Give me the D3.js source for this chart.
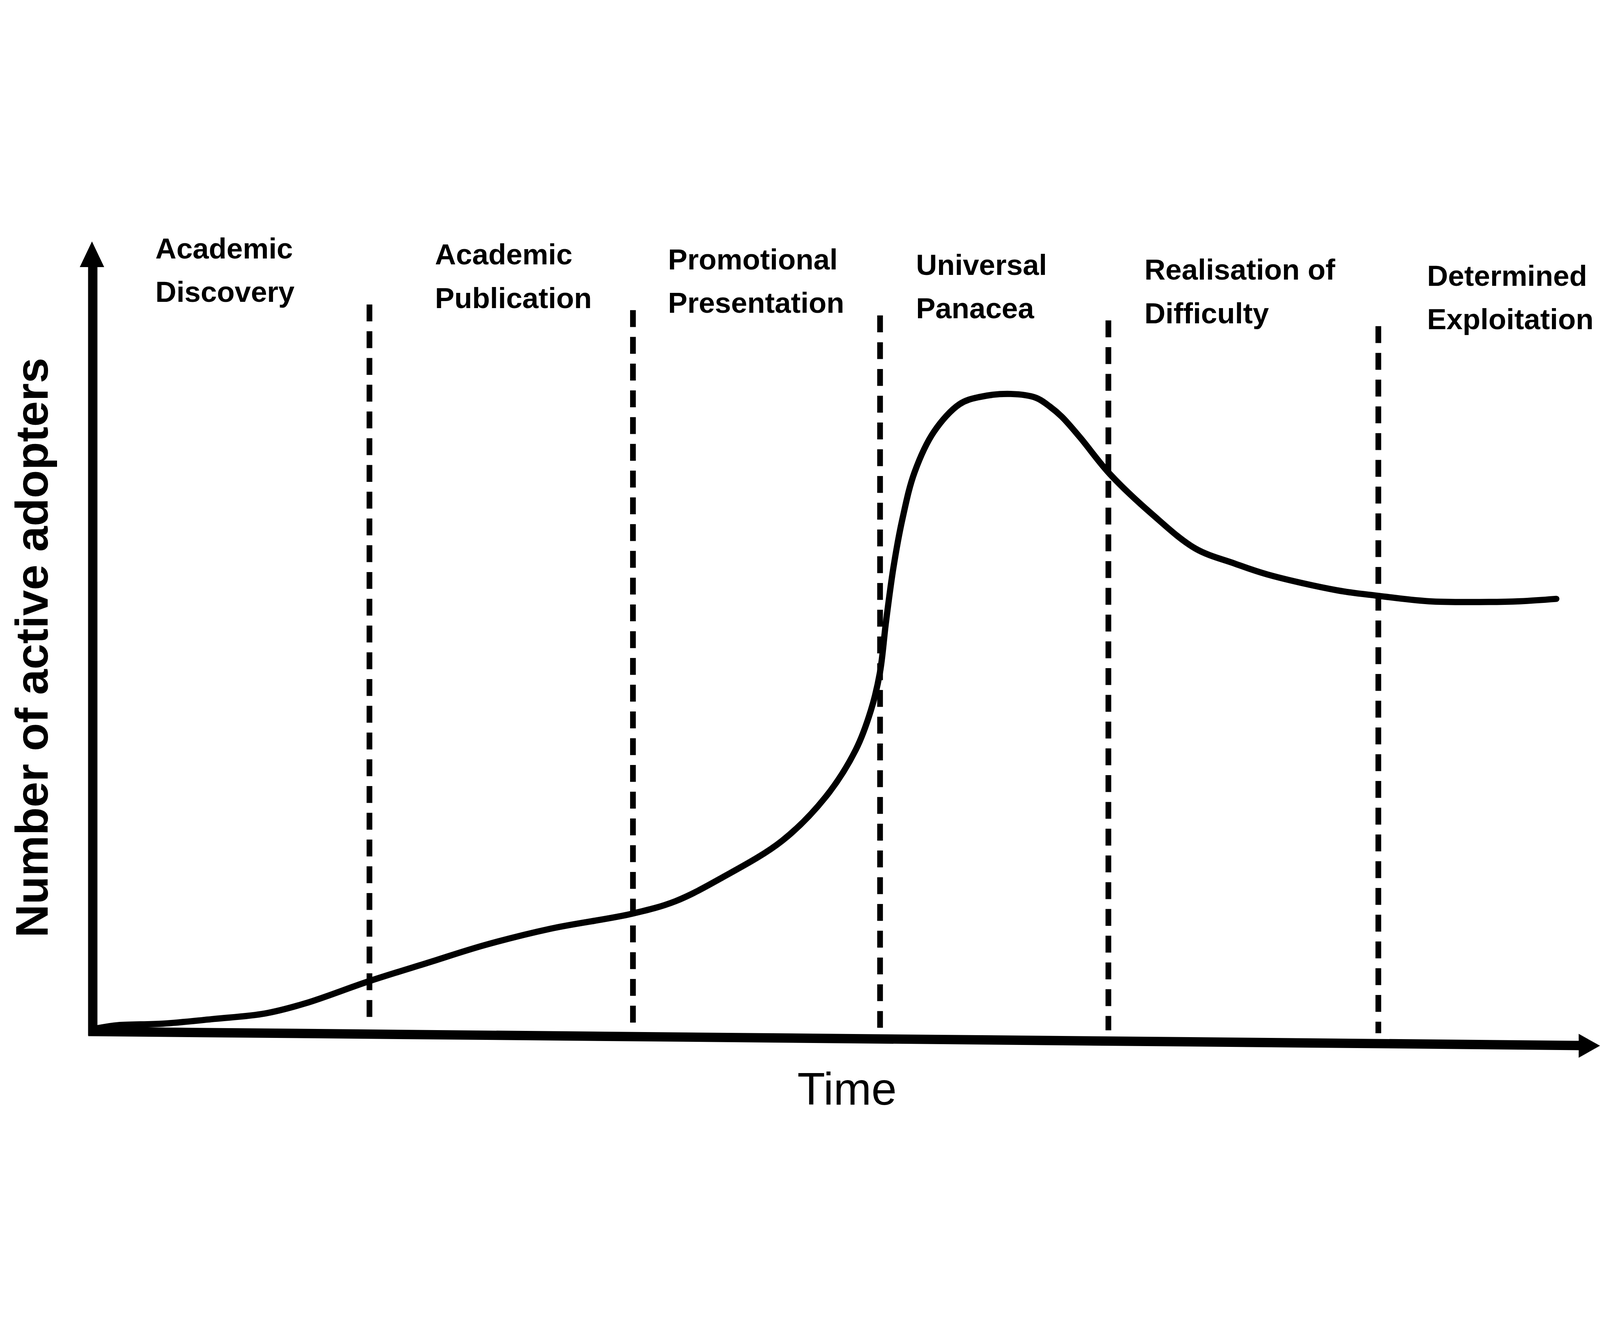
<!DOCTYPE html>
<html>
<head>
<meta charset="utf-8">
<script src="https://cdn.jsdelivr.net/npm/d3@7"></script>
<style>
html, body { margin:0; padding:0; background:#fff; overflow:hidden; }
svg { display:block; }
text { font-family:"Liberation Sans", Arial, sans-serif; fill:#000; }
</style>
</head>
<body>
<div class="canvas"></div>
<script>
//chart values
var phaseLine1 = ['Academic','Academic','Promotional','Universal','Realisation of','Determined'];
var phaseLine2 = ['Discovery','Publication','Presentation','Panacea','Difficulty','Exploitation'];
var phaseLabelTime = [4.1, 22.7, 38.2, 54.7, 69.9, 88.7];
var boundaries = [18.34, 35.87, 52.31, 67.5, 85.46];

var time = [0.2,1.6,4.6,8.0,11.4,14.1,18.3,22.3,26.0,30.4,35.8,38.7,41.8,45.8,48.7,
	50.7,51.7,52.3,52.7,53.2,53.8,54.6,55.9,57.6,58.9,61.0,62.7,63.6,64.4,65.6,
	67.6,70.4,73.3,75.9,78.1,82.7,85.4,88.8,92.2,94.9,97.3];
var adopters = [0,0.4,0.6,1.2,1.9,3.2,6.0,8.4,10.6,12.7,14.6,16.2,19.2,23.9,29.5,
	35.5,40.5,45.3,51.7,58.7,64.9,70.8,76.0,79.5,80.4,80.8,80.3,79.2,77.9,75.3,
	70.6,65.5,61.1,59.2,57.8,55.8,55.1,54.4,54.3,54.4,54.7];

var xTitle = 'Time';
var yTitle = 'Number of active adopters';

//drawing set up, the viewBox keeps the whole figure inside the window
var W = 6158, H = 3406;
var svg = d3.select('.canvas')
	.append('svg')
	.attr('viewBox','0 0 '+W+' '+H)
	.attr('preserveAspectRatio','xMidYMid meet')
	.style('width','100vw')
	.style('height','100vh');

var x = d3.scaleLinear().domain([0,100]).range([361,6146]);
var y = d3.scaleLinear().domain([0,100]).range([3102,79]);

//the scanned figure drifts downwards to the right
var labelSkew = 0.0215, axisDrop = 55;

//y axis with arrow
var ax0 = 357;
svg.append('line')
	.attr('x1',ax0).attr('y1',3130)
	.attr('x2',ax0).attr('y2',y(100)+80)
	.attr('stroke','#000').attr('stroke-width',36);
svg.append('path')
	.attr('d','M'+(ax0-3)+','+(y(100)-7)+' L'+(ax0+44)+','+(y(100)+92)+' L'+(ax0-50)+','+(y(100)+92)+' Z')
	.attr('fill','#000');

//x axis with arrow (slightly tilted like the original)
var xStart = 340, yStart = y(0)+12, xEnd = 6158, yEnd = yStart+axisDrop;
svg.append('line')
	.attr('x1',xStart).attr('y1',yStart)
	.attr('x2',xEnd-75).attr('y2',yEnd-1)
	.attr('stroke','#000').attr('stroke-width',36);
svg.append('path')
	.attr('d','M'+xEnd+','+yEnd+' L'+(xEnd-82)+','+(yEnd-46)+' L'+(xEnd-82)+','+(yEnd+46)+' Z')
	.attr('fill','#000');

//dashed phase boundaries
boundaries.forEach(function(b){
	var bx = x(b);
	var top = 315 + (bx-1422)*labelSkew;
	var bottom = 3078 + (bx-1422)*0.011;
	svg.append('line')
		.attr('x1',bx).attr('y1',top)
		.attr('x2',bx).attr('y2',bottom)
		.attr('stroke','#000')
		.attr('stroke-width',22)
		.attr('stroke-dasharray','65,38');
});

//phase labels
phaseLine1.forEach(function(d,i){
	var lx = x(phaseLabelTime[i]);
	var base = 138 + (lx-597)*labelSkew;
	var t = svg.append('text')
		.attr('x',lx)
		.attr('y',base)
		.attr('font-size',112)
		.attr('font-weight','bold');
	t.append('tspan').attr('x',lx).text(d);
	t.append('tspan').attr('x',lx).attr('dy',167).text(phaseLine2[i]);
});

//adoption curve
var pts = time.map(function(t,i){ return [t, adopters[i]]; });
var line = d3.line()
	.x(function(d){ return x(d[0]); })
	.y(function(d){ return y(d[1]); })
	.curve(d3.curveCatmullRom.alpha(0.5));
svg.append('path')
	.datum(pts)
	.attr('d',line)
	.attr('fill','none')
	.attr('stroke','#000')
	.attr('stroke-width',24)
	.attr('stroke-linejoin','round')
	.attr('stroke-linecap','round');

//axis titles
svg.append('text')
	.attr('x',3260)
	.attr('y',3396)
	.attr('text-anchor','middle')
	.attr('font-size',175)
	.text(xTitle);

svg.append('text')
	.attr('transform','translate(183,1636) rotate(-90)')
	.attr('text-anchor','middle')
	.attr('font-size',177)
	.attr('font-weight','bold')
	.text(yTitle);
</script>
</body>
</html>
